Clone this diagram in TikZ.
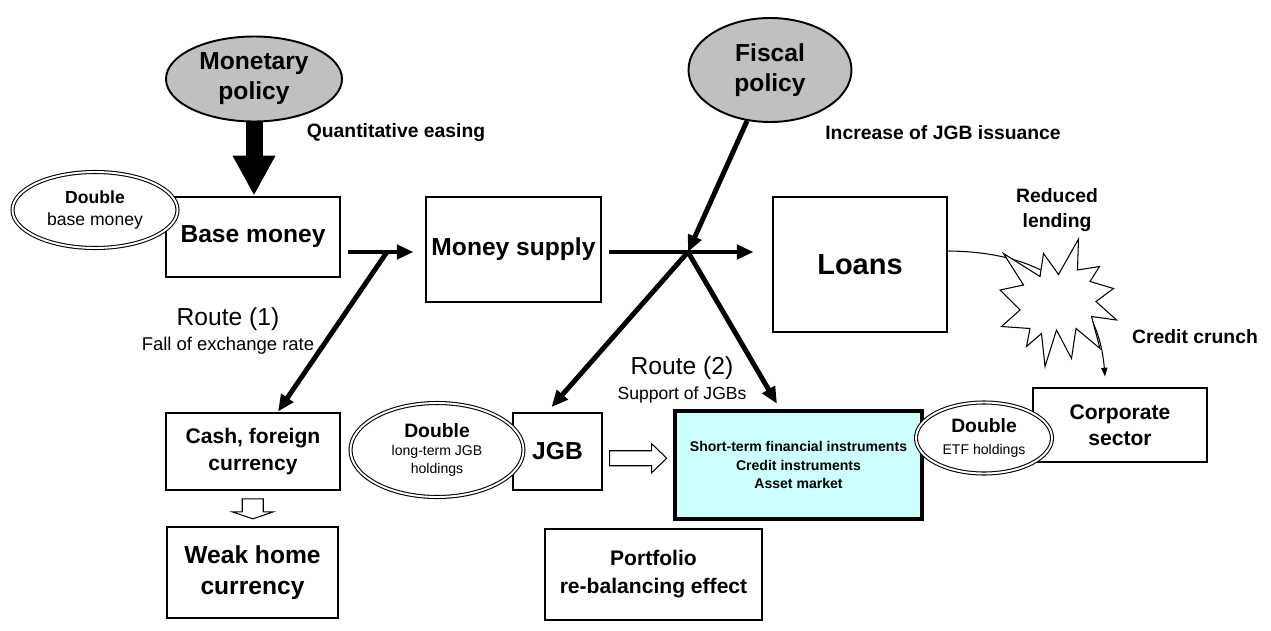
\documentclass[tikz,border=0pt]{standalone}
\usepackage{fontspec}
\setmainfont{Liberation Sans}
\usetikzlibrary{shapes.geometric,arrows.meta,positioning,calc}
\definecolor{policygray}{HTML}{C0C0C0}
\definecolor{marketcyan}{HTML}{CCFFFF}

\begin{document}
\begin{tikzpicture}[
  policy/.style={ellipse, draw, line width=1.1pt, fill=policygray, inner sep=0pt,
                 align=center, font=\fontsize{14}{17}\selectfont\bfseries},
  box/.style={draw, line width=1.6pt, inner sep=0pt, align=center,
              font=\fontsize{14}{18}\selectfont\bfseries},
  thinbox/.style={box, line width=0.8pt},
  twin/.style={ellipse, draw, double, double distance=1.1pt, line width=0.6pt,
               fill=white, inner sep=0pt, align=center},
  flow/.style={line width=2.8pt, -{Triangle[length=9.5pt,width=8pt]}},
  hollow/.style={draw, line width=0.6pt, fill=white, line join=miter},
  lbl/.style={font=\fontsize{11}{14}\selectfont\bfseries, align=center},
  route/.style={align=center, font=\fontsize{14}{17}\selectfont}
]
  \useasboundingbox (0,0) rectangle (25.42,12.6);

  % policies
  \node[policy, minimum width=3.52cm, minimum height=1.70cm] (monetary) at (5.08,11.02) {Monetary\\policy};
  \node[policy, minimum width=3.26cm, minimum height=2.08cm] (fiscal) at (15.40,11.20) {Fiscal\\policy};

  % main boxes
  \node[box, minimum width=3.48cm, minimum height=1.60cm] (base) at (5.06,7.86) {Base money};
  \node[box, minimum width=3.50cm, minimum height=2.10cm] (ms) at (10.27,7.61) {Money supply};
  \node[box, minimum width=3.48cm, minimum height=2.70cm, font=\fontsize{16.5}{20}\selectfont\bfseries] (loans) at (17.20,7.31) {Loans};
  \node[box, minimum width=3.48cm, minimum height=1.54cm, font=\fontsize{12}{15.5}\selectfont\bfseries] (cash) at (5.06,3.57) {Cash, foreign\\currency};
  \node[thinbox, minimum width=3.42cm, minimum height=1.82cm] (weak) at (5.05,1.15) {Weak home\\currency};
  \node[box, minimum width=1.78cm, minimum height=1.54cm] (jgb) at (11.15,3.57) {JGB};
  \node[box, line width=2.3pt, fill=marketcyan, minimum width=4.94cm, minimum height=2.16cm,
        font=\fontsize{8}{10.5}\selectfont\bfseries] (market) at (15.97,3.30)
        {Short-term financial instruments\\Credit instruments\\Asset market};
  \node[box, minimum width=3.48cm, minimum height=1.48cm, font=\fontsize{12}{15}\selectfont\bfseries] (corp) at (22.40,4.10) {Corporate\\sector};
  \node[box, line width=1.1pt, minimum width=4.34cm, minimum height=1.82cm, font=\fontsize{12}{16}\selectfont\bfseries] (portfolio) at (13.07,1.11) {Portfolio\\re-balancing effect};

  % doubling targets
  \node[twin, minimum width=3.30cm, minimum height=1.52cm, font=\fontsize{10}{13}\selectfont] (dblbase) at (1.90,8.40) {\textbf{Double}\\base money};
  \node[twin, minimum width=3.46cm, minimum height=1.88cm, font=\fontsize{8}{10}\selectfont] (dbljgb) at (8.74,3.60) {{\fontsize{11}{12}\selectfont\bfseries Double}\\long-term JGB\\holdings};
  \node[twin, minimum width=2.72cm, minimum height=1.42cm, font=\fontsize{8}{10}\selectfont] (dbletf) at (19.68,3.84) {{\fontsize{11}{12}\selectfont\bfseries Double}\\[3pt]ETF holdings};

  % labels
  \node[lbl] (qe) at (7.92,9.94) {Quantitative easing};
  \node[lbl] (jgbiss) at (18.86,9.94) {Increase of JGB issuance};
  \node[lbl] (reduced) at (21.14,8.40) {Reduced\\lending};
  \node[lbl] (crunch) at (23.90,5.86) {Credit crunch};
  \node[route] (route1) at (4.56,5.98) {Route (1)\\[-3pt]{\fontsize{10.5}{12}\selectfont Fall of exchange rate}};
  \node[route] (route2) at (13.64,5.00) {Route (2)\\[-3pt]{\fontsize{10}{12}\selectfont Support of JGBs}};

  % junctions
  \coordinate (j1) at (7.74,7.56);
  \coordinate (j2) at (13.76,7.56);

  % flows
  \draw[line width=0.34cm, -{Triangle[length=0.8cm,width=0.8cm]}] (monetary.south) -- (monetary.south |- base.north);
  \draw[flow, shorten <=0.14cm, shorten >=0.22cm] (base.east |- j1) -- (ms.west |- j1);
  \draw[flow] (j1) -- ([xshift=0.5cm]cash.north);
  \draw[flow, shorten <=0.14cm, shorten >=0.36cm] (ms.east |- j2) -- (loans.west |- j2);
  \draw[flow] (fiscal) -- (j2);
  \draw[flow, shorten >=0.12cm] (j2) -- ([xshift=-0.2cm]jgb.north);
  \draw[flow, shorten >=0.12cm] (j2) -- ([xshift=-0.37cm]market.north);

  % hollow arrows
  \coordinate (dn) at ($(cash.south)!0.5!(weak.north)$);
  \coordinate (rt) at ($(jgb.east)!0.5!(market.west)$);
  \draw[hollow, shift={(dn)}] (-0.21,0.2) -- (0.21,0.2) -- (0.21,-0.06) -- (0.41,-0.06)
    -- (0,-0.2) -- (-0.41,-0.06) -- (-0.21,-0.06) -- cycle;
  \draw[hollow, shift={(rt)}] (-0.57,0.15) -- (0.27,0.15) -- (0.27,0.29) -- (0.57,0)
    -- (0.27,-0.29) -- (0.27,-0.15) -- (-0.57,-0.15) -- cycle;

  % credit crunch
  \draw[line width=0.6pt, -{Triangle[length=5pt,width=3.5pt]}] ([yshift=0.27cm]loans.east)
    .. controls (20.8,7.56) and (21.96,6.8) .. ([xshift=-0.3cm,yshift=0.2cm]corp.north);
  \draw[line width=0.6pt, fill=white, line join=miter, shift={(21.40,6.50)}]
    (0.17,1.32) -- (0.15,0.70) -- (0.59,0.77) -- (0.40,0.47) -- (0.87,0.33) -- (0.52,0.07)
    -- (0.93,-0.30) -- (0.43,-0.23) -- (0.60,-0.87) -- (0.12,-0.47) -- (0.03,-1.07)
    -- (-0.27,-0.50) -- (-0.50,-1.23) -- (-0.57,-0.57) -- (-0.87,-0.83) -- (-0.80,-0.47)
    -- (-1.37,-0.43) -- (-1.00,-0.10) -- (-1.40,0.30) -- (-0.93,0.40) -- (-1.33,1.03)
    -- (-0.60,0.57) -- (-0.53,1.03) -- (-0.23,0.61) -- cycle;
\end{tikzpicture}
\end{document}
